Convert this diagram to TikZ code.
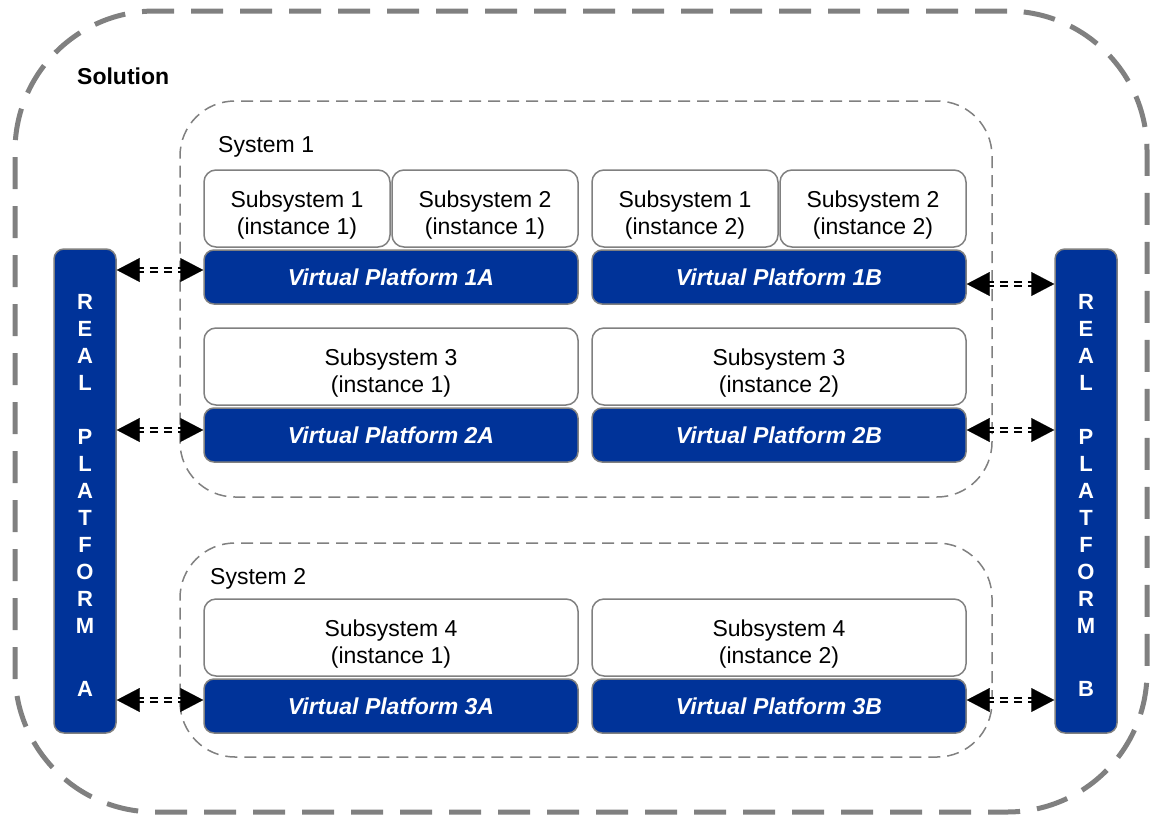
\documentclass[tikz,border=0pt]{standalone}
\usepackage{fontspec}
\setmainfont{Liberation Sans}
\usetikzlibrary{arrows.meta}
\definecolor{vpblue}{RGB}{0,51,153}
\definecolor{bordergray}{RGB}{128,128,128}
\definecolor{dashgray}{RGB}{128,128,128}
\newcommand\twolines[2]{\rule{0pt}{29pt}#1\\#2}
\begin{document}
\begin{tikzpicture}[x=1pt,y=-1pt,
  txt/.style={font=\fontsize{23}{27}\selectfont},
  subbox/.style={draw=bordergray, line width=1.5pt, rounded corners=12pt, fill=white,
    align=center, txt, inner sep=0pt, minimum height=77pt},
  vpbox/.style={draw=bordergray, line width=1.5pt, rounded corners=10pt, fill=vpblue,
    text=white, font=\fontsize{23}{27}\selectfont\bfseries\itshape, inner sep=0pt,
    minimum width=374pt, minimum height=54pt},
  rpbox/.style={draw=bordergray, line width=1.5pt, rounded corners=10pt, fill=vpblue,
    inner sep=0pt, minimum width=62pt, minimum height=484pt},
  rptext/.style={text=white, align=center, inner sep=0pt,
    font=\fontsize{22}{27}\selectfont\bfseries},
  sysbox/.style={draw=dashgray, line width=1.5pt, dash pattern=on 12pt off 7pt,
    rounded corners=55pt, inner sep=0pt, minimum width=812pt},
  solbox/.style={draw=dashgray, line width=5pt, dash pattern=on 32pt off 17pt,
    rounded corners=140pt, inner sep=0pt, minimum width=1132pt, minimum height=801pt},
  conn/.style={line width=2pt, double=white, double distance=2pt, dash pattern=on 8pt off 6pt},
  tips/.style={white, line width=0.1pt,
    {Triangle[black,length=23pt,width=24pt]}-{Triangle[black,length=23pt,width=24pt]}}
]
\useasboundingbox (0,0) rectangle (1150,814);

% outer solution
\node[solbox] (sol) at (581,411.5) {};
\node[anchor=west, inner sep=0pt, font=\fontsize{23}{27}\selectfont\bfseries] (soltxt) at (77,76) {Solution};

% systems
\node[sysbox, minimum height=396pt] (sys1) at (586,299) {};
\node[anchor=west, inner sep=0pt, txt] (sys1txt) at (218,147) {System 1};
\node[sysbox, minimum height=214pt] (sys2) at (586,650) {};
\node[anchor=west, inner sep=0pt, txt] (sys2txt) at (210,579) {System 2};

% row 1
\node[subbox, minimum width=186pt] (s1i1) at (297,208.5) {\twolines{Subsystem 1}{(instance 1)}};
\node[subbox, minimum width=186pt] (s2i1) at (485,208.5) {\twolines{Subsystem 2}{(instance 1)}};
\node[subbox, minimum width=186pt] (s1i2) at (685,208.5) {\twolines{Subsystem 1}{(instance 2)}};
\node[subbox, minimum width=186pt] (s2i2) at (873,208.5) {\twolines{Subsystem 2}{(instance 2)}};
\node[vpbox] (vp1a) at (391,277) {Virtual Platform 1A};
\node[vpbox] (vp1b) at (779,277) {Virtual Platform 1B};

% row 2
\node[subbox, minimum width=374pt] (s3i1) at (391,366.5) {\twolines{Subsystem 3}{(instance 1)}};
\node[subbox, minimum width=374pt] (s3i2) at (779,366.5) {\twolines{Subsystem 3}{(instance 2)}};
\node[vpbox] (vp2a) at (391,435) {Virtual Platform 2A};
\node[vpbox] (vp2b) at (779,435) {Virtual Platform 2B};

% row 3
\node[subbox, minimum width=374pt] (s4i1) at (391,637.5) {\twolines{Subsystem 4}{(instance 1)}};
\node[subbox, minimum width=374pt] (s4i2) at (779,637.5) {\twolines{Subsystem 4}{(instance 2)}};
\node[vpbox] (vp3a) at (391,706) {Virtual Platform 3A};
\node[vpbox] (vp3b) at (779,706) {Virtual Platform 3B};

% real platforms
\node[rpbox] (rpa) at (85,491) {};
\node[rptext] (rpatxt) at (85,495) {R\\E\\A\\L\\[27pt]P\\L\\A\\T\\F\\O\\R\\M\\[36pt]A};
\node[rpbox] (rpb) at (1086,491) {};
\node[rptext] (rpbtxt) at (1086,495) {R\\E\\A\\L\\[27pt]P\\L\\A\\T\\F\\O\\R\\M\\[36pt]B};

% connectors
\foreach \n/\y in {vp1a/270, vp2a/430, vp3a/700}{
  \draw[conn] ([xshift=19pt]rpa.east |- 0,\y) -- ([xshift=-19pt]\n.west |- 0,\y);
  \draw[tips] (rpa.east |- 0,\y) -- (\n.west |- 0,\y);
}
\foreach \n/\y in {vp1b/284, vp2b/430, vp3b/700}{
  \draw[conn] ([xshift=19pt]\n.east |- 0,\y) -- ([xshift=-19pt]rpb.west |- 0,\y);
  \draw[tips] (\n.east |- 0,\y) -- (rpb.west |- 0,\y);
}
\end{tikzpicture}
\end{document}
